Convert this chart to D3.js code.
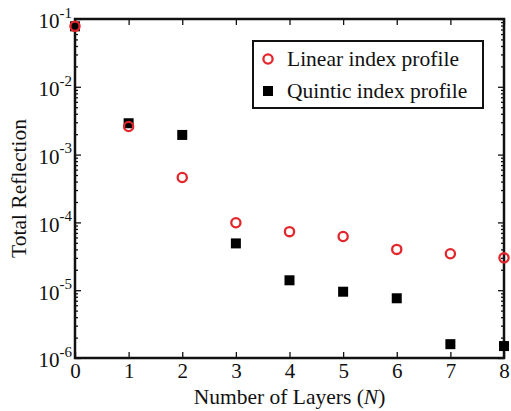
<!DOCTYPE html>
<html>
<head>
<meta charset="utf-8">
<script src="https://cdn.jsdelivr.net/npm/d3@7"></script>
<style>
  body { margin: 0; background: #fff; }
  text { font-family: "Liberation Serif", "DejaVu Serif", serif; fill: #111; }
</style>
</head>
<body>
<svg id="chart" width="511" height="411"></svg>
<script>
// data
var layers = [0, 1, 2, 3, 4, 5, 6, 7, 8];
var linearR = [0.078, 2.6e-3, 4.6e-4, 9.9e-5, 7.3e-5, 6.2e-5, 4.0e-5, 3.45e-5, 3.0e-5];
var quinticR = [0.078, 2.9e-3, 1.95e-3, 4.9e-5, 1.4e-5, 9.5e-6, 7.6e-6, 1.6e-6, 1.5e-6];
var xTicks = [0, 1, 2, 3, 4, 5, 6, 7, 8];
var yExps = [-1, -2, -3, -4, -5, -6];
var seriesNames = ["Linear index profile", "Quintic index profile"];

var svg = d3.select('#chart');
var pLeft = 75, pRight = 504, pTop = 19, pBottom = 358;

var x = d3.scaleLinear().domain([0, 8]).range([pLeft, pRight]);
var y = d3.scaleLog().domain([1e-6, 1e-1]).range([pBottom, pTop]);

var minor = [];
yExps.forEach(function(e) {
    if (e == -1) return;
    for (var k = 2; k <= 9; k++) minor.push(k * Math.pow(10, e));
});

function styleAxis(g) {
    g.select('.domain').remove();
    g.selectAll('.tick line').attr('stroke', '#111').attr('stroke-width', 1.3);
}

// minor ticks
svg.append('g').attr('transform', 'translate(' + pLeft + ',0)')
    .call(d3.axisLeft(y).tickValues(minor).tickSize(-3).tickFormat(''))
    .call(styleAxis);
svg.append('g').attr('transform', 'translate(' + pRight + ',0)')
    .call(d3.axisRight(y).tickValues(minor).tickSize(-3).tickFormat(''))
    .call(styleAxis);

// major y ticks
var yVals = yExps.map(function(e) { return Math.pow(10, e); });
var yAxis = svg.append('g').attr('transform', 'translate(' + pLeft + ',0)')
    .call(d3.axisLeft(y).tickValues(yVals).tickSize(-6).tickPadding(3).tickFormat(''))
    .call(styleAxis);
yAxis.selectAll('.tick text').each(function(d) {
    var t = d3.select(this).attr('font-size', 21).attr('dy', '0.42em').attr('fill', '#111');
    t.append('tspan').text('10');
    t.append('tspan').attr('font-size', 15).attr('dy', '-0.7em')
        .text(String(Math.round(Math.log10(d))));
});
svg.append('g').attr('transform', 'translate(' + pRight + ',0)')
    .call(d3.axisRight(y).tickValues(yVals).tickSize(-6).tickFormat(''))
    .call(styleAxis);

// x ticks
svg.append('g').attr('transform', 'translate(0,' + pBottom + ')')
    .call(d3.axisBottom(x).tickValues(xTicks).tickSize(-6).tickPadding(5).tickFormat(d3.format('d')))
    .call(styleAxis)
    .selectAll('.tick text').attr('font-size', 21).attr('fill', '#111');
svg.append('g').attr('transform', 'translate(0,' + pTop + ')')
    .call(d3.axisTop(x).tickValues(xTicks).tickSize(-6).tickFormat(''))
    .call(styleAxis);

// frame
svg.append('rect')
    .attr('x', pLeft).attr('y', pTop)
    .attr('width', pRight - pLeft).attr('height', pBottom - pTop)
    .attr('fill', 'none').attr('stroke', '#111').attr('stroke-width', 2.5);

// quintic squares
var sq = 10;
svg.append('g').selectAll('rect')
    .data(layers.map(function(n, i) { return [n, quinticR[i]]; }))
    .join('rect')
    .attr('x', function(d) { return x(d[0]) - sq / 2; })
    .attr('y', function(d) { return y(d[1]) - sq / 2; })
    .attr('width', sq).attr('height', sq)
    .attr('fill', '#000');

// linear circles
svg.append('g').selectAll('circle')
    .data(layers.map(function(n, i) { return [n, linearR[i]]; }))
    .join('circle')
    .attr('cx', function(d) { return x(d[0]); })
    .attr('cy', function(d) { return y(d[1]); })
    .attr('r', 4.6)
    .attr('fill', 'none')
    .attr('stroke', '#e3262b')
    .attr('stroke-width', 2.3);

// legend
var lg = svg.append('g');
lg.append('rect').attr('x', 253).attr('y', 41).attr('width', 230).attr('height', 67)
    .attr('fill', '#fff').attr('stroke', '#111').attr('stroke-width', 2);
lg.append('circle').attr('cx', 268).attr('cy', 59).attr('r', 4.6)
    .attr('fill', 'none').attr('stroke', '#e3262b').attr('stroke-width', 2.3);
lg.append('rect').attr('x', 268 - sq / 2).attr('y', 91 - sq / 2).attr('width', sq).attr('height', sq)
    .attr('fill', '#000');
lg.selectAll('text.lab').data(seriesNames).join('text')
    .attr('class', 'lab')
    .attr('x', 287)
    .attr('y', function(d, i) { return 59 + i * 32; })
    .attr('dy', '0.33em')
    .attr('font-size', 21.5)
    .text(function(d) { return d; });

// axis titles
var xt = svg.append('text').attr('x', (pLeft + pRight) / 2).attr('y', 404)
    .attr('text-anchor', 'middle').attr('font-size', 21.5);
xt.append('tspan').text('Number of Layers (');
xt.append('tspan').attr('font-style', 'italic').text('N');
xt.append('tspan').text(')');

svg.append('text')
    .attr('transform', 'translate(26,' + ((pTop + pBottom) / 2) + ') rotate(-90)')
    .attr('text-anchor', 'middle').attr('font-size', 21.5)
    .text('Total Reflection');
</script>
</body>
</html>
